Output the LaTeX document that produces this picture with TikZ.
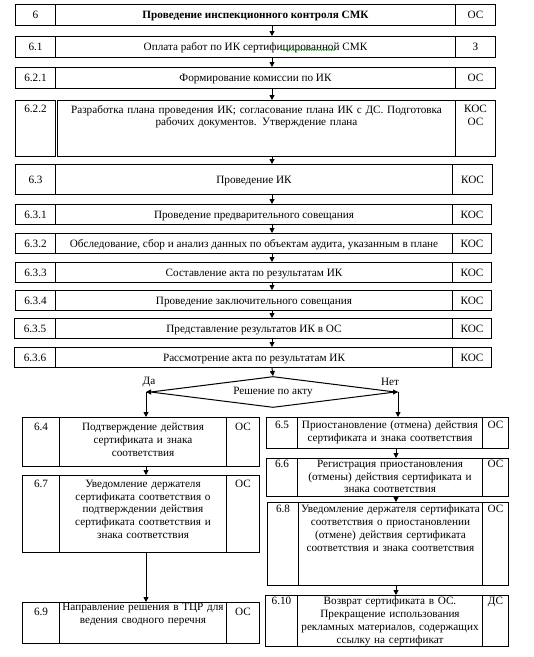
\documentclass[tikz,border=0pt]{standalone}
\usepackage{fontspec}
\setmainfont{Liberation Serif}
\usetikzlibrary{shapes.geometric,arrows.meta,decorations.pathmorphing}
\tikzset{
  box/.style={draw=black, line width=1pt, inner sep=0pt},
  txt/.style={inner sep=0pt, align=center, font=\fontsize{11.2}{12.7}\selectfont},
  arr/.style={-{Triangle[length=5pt,width=5pt]}, line width=0.9pt},
}
\newcommand\cellC[6]{%
  \pgfmathsetmacro\cw{#3-#2}\pgfmathsetmacro\ch{#5-#4}%
  \node[box,minimum width=\cw pt,minimum height=\ch pt,anchor=north west] (#1) at (#2,#4) {};%
  \node[txt,text height=8pt,text depth=1pt] (#1t) at (#1.center) {#6};}
\newcommand\cellT[6]{%
  \pgfmathsetmacro\cw{#3-#2}\pgfmathsetmacro\ch{#5-#4}\pgfmathsetmacro\tw{#3-#2-4}%
  \node[box,minimum width=\cw pt,minimum height=\ch pt,anchor=north west] (#1) at (#2,#4) {};%
  \node[txt,text width=\tw pt,anchor=north] (#1t) at ([yshift=-\pad pt]#1.north) {#6};}
\newcommand\setcols[4]{\def\xa{#1}\def\xb{#2}\def\xc{#3}\def\xd{#4}}
\newcommand\rowC[6]{\cellC{#1n}{\xa}{\xb}{#2}{#3}{#4}\cellC{#1m}{\xb}{\xc}{#2}{#3}{#5}\cellC{#1w}{\xc}{\xd}{#2}{#3}{#6}}
\newcommand\rowT[6]{\cellT{#1n}{\xa}{\xb}{#2}{#3}{#4}\cellT{#1m}{\xb}{\xc}{#2}{#3}{#5}\cellT{#1w}{\xc}{\xd}{#2}{#3}{#6}}
\begin{document}
\begin{tikzpicture}[x=1pt,y=-1pt]
\fill[white] (0,0) rectangle (534,657);
\useasboundingbox (0,0) rectangle (534,657);

\setcols{15}{55}{455}{495}
\rowC{ra}{4}{25}{6}{\textbf{Проведение инспекционного контроля СМК}}{ОС}
\rowC{rb}{36}{57}{6.1}{Оплата работ по ИК сертифицированной СМК}{З}
\rowC{rc}{67}{88}{6.2.1}{Формирование комиссии по ИК}{ОС}
\def\pad{5}
\cellT{rdn}{15}{55}{100}{156}{6.2.2}
\cellT{rdm}{57}{455}{100}{156}{Разработка плана проведения ИК; согласование плана ИК с ДС. Подготовка\\рабочих документов. Утверждение плана}
\cellT{rdw}{455}{495}{100}{156}{КОС\\ОС}
\setcols{15}{55}{452}{492}
\rowC{re}{164}{194}{6.3}{Проведение ИК}{КОС}
\setcols{15}{55}{452}{491}
\rowC{rf}{204}{224}{6.3.1}{Проведение предварительного совещания}{КОС}
\rowC{rg}{233}{253}{6.3.2}{Обследование, сбор и анализ данных по объектам аудита, указанным в плане}{КОС}
\rowC{rh}{262}{282}{6.3.3}{Составление акта по результатам ИК}{КОС}
\rowC{ri}{290}{310}{6.3.4}{Проведение заключительного совещания}{КОС}
\setcols{14}{55}{452}{491}
\rowC{rj}{318}{338}{6.3.5}{Представление результатов ИК в ОС}{КОС}
\rowC{rk}{347}{367}{6.3.6}{Рассмотрение акта по результатам ИК}{КОС}

\coordinate (cm) at (272,0);
\foreach \a/\b in {ra/rb, rb/rc, rc/rd, rd/re, re/rf, rf/rg, rg/rh, rh/ri, ri/rj, rj/rk}
  \draw[arr] (\a m.south -| cm) -- (\b m.north -| cm);

\node[diamond, draw=black, line width=1pt, aspect=8, minimum width=245pt, minimum height=31pt, txt] (dec) at (273,392) {Решение по акту};
\draw[arr] (rkm.south -| cm) -- (dec.north);
\coordinate (dl) at (146,392);
\coordinate (dr) at (398,392);
\node[txt] (yes) at (149,382) {Да};
\node[txt] (no) at (390,382) {Нет};

\setcols{22}{59}{226}{259}
\def\pad{6}
\rowT{sa}{417}{466}{6.4}{Подтверждение действия\\сертификата и знака\\соответствия}{ОС}
\def\pad{5}
\rowT{sb}{475}{552}{6.7}{Уведомление держателя\\сертификата соответствия о\\подтверждении действия\\сертификата соответствия и\\знака соответствия}{ОС}
\def\pad{1}
\cellT{scm}{59}{226}{602}{643}{Направление решения в ТЦР для\\ведения сводного перечня}
\def\pad{6}
\cellT{scn}{22}{59}{602}{643}{6.9}
\cellT{scw}{226}{259}{602}{643}{ОС}

\setcols{266}{297}{482}{508}
\def\pad{4}
\rowT{ta}{417}{448}{6.5}{Приостановление (отмена) действия\\сертификата и знака соответствия}{ОС}
\def\pad{2}
\rowT{tb}{458}{496}{6.6}{Регистрация приостановления\\(отмены) действия сертификата и\\знака соответствия}{ОС}
\setcols{267}{298}{482}{508}
\def\pad{3}
\rowT{tc}{502}{585}{6.8}{Уведомление держателя сертификата\\соответствия о приостановлении\\(отмене) действия сертификата\\соответствия и знака соответствия}{ОС}
\setcols{265}{297}{482}{508}
\def\pad{2}
\rowT{td}{595}{646}{6.10}{Возврат сертификата в ОС.\\Прекращение использования\\рекламных материалов, содержащих\\ссылку на сертификат}{ДС}

\draw[arr] (dec.west) -- (dl);
\draw[arr] (dl) -- (sam.north -| dl);
\draw[arr] (dec.east) -- (dr);
\draw[arr] (dr) -- (tam.north -| dr);
\coordinate (cl) at (146,0);
\coordinate (cr) at (396,0);
\draw[arr] (sam.south -| cl) -- (sbm.north -| cl);
\draw[arr] (sbm.south -| cl) -- (scm.north -| cl);
\draw[arr] (tam.south -| cr) -- (tbm.north -| cr);
\draw[arr] (tbm.south -| cr) -- (tcm.north -| cr);
\draw[arr] (tcm.south -| cr) -- (tdm.north -| cr);

\draw[green!60!black, line width=0.4pt, decorate, decoration={snake, amplitude=0.6pt, segment length=2.5pt}] (282,50) -- (337,50);
\end{tikzpicture}
\end{document}
